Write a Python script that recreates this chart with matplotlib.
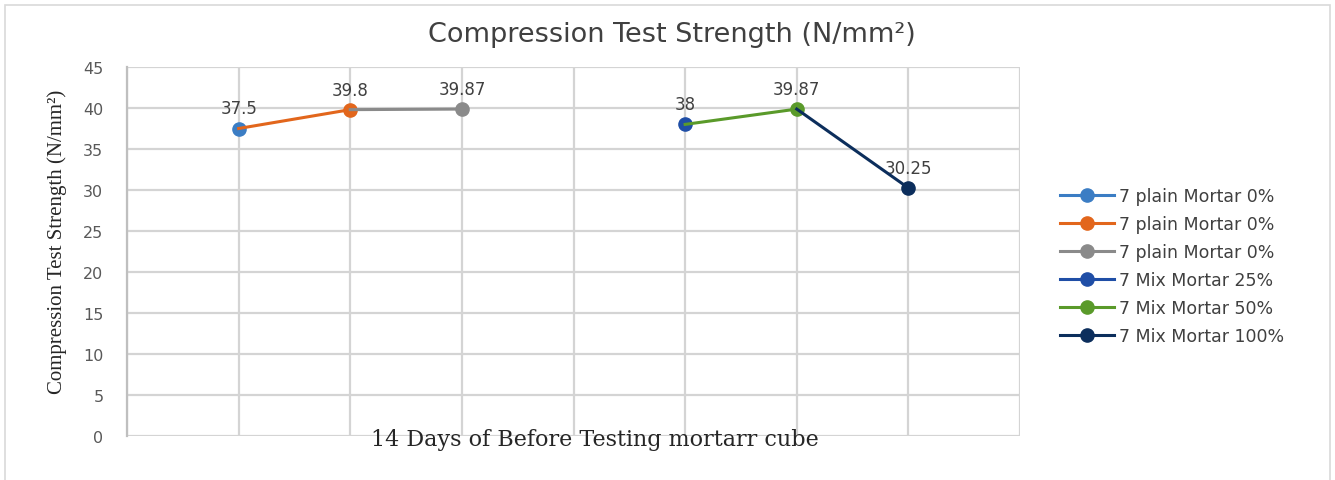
import matplotlib.pyplot as plt
from matplotlib.patches import Rectangle

# datos del grafico
series = ['7 plain Mortar 0%', '7 plain Mortar 0%', '7 plain Mortar 0%',
          '7 Mix Mortar 25%', '7 Mix Mortar 50%', '7 Mix Mortar 100%']
posiciones = [1, 2, 3, 5, 6, 7]
valores = [37.5, 39.8, 39.87, 38, 39.87, 30.25]
etiquetas = ['37.5', '39.8', '39.87', '38', '39.87', '30.25']
# indice del punto anterior al que se une cada serie (None = sin linea)
anterior = [None, 0, 1, None, 3, 4]
colores = ['#3b7dc4', '#e2661c', '#8a8a8a', '#1f4ea6', '#5a9a2a', '#0c2e5c']

fig = plt.figure(figsize=(13.35, 4.81), dpi=100)
ax = fig.add_axes([127 / 1335, 1 - 437 / 481, (1020 - 127) / 1335, (437 - 68) / 481])

# borde exterior del grafico
fig.patches.append(Rectangle((5 / 1335, -0.01), 1325 / 1335, 1 - 6 / 481 + 0.01,
                             transform=fig.transFigure, fill=False,
                             edgecolor='#d9d9d9', linewidth=1.2))

for i in range(len(series)):
    if anterior[i] is None:
        xs = [posiciones[i]]
        ys = [valores[i]]
    else:
        xs = [posiciones[anterior[i]], posiciones[i]]
        ys = [valores[anterior[i]], valores[i]]
    ax.plot(xs, ys, color=colores[i], linewidth=2.2, marker='o', markersize=9.5,
            markevery=[len(xs) - 1], label=series[i], zorder=3 + i)
    ax.annotate(etiquetas[i], (posiciones[i], valores[i]), xytext=(0, 8),
                textcoords='offset points', ha='center', va='bottom',
                fontsize=12, color='#404040', family='DejaVu Sans')

ax.set_xlim(0, 8)
ax.set_ylim(0, 45)
ax.set_xticks(range(0, 9))
ax.set_yticks(range(0, 50, 5))
ax.set_xticklabels([])
ax.grid(True, color='#d4d4d4', linewidth=1.6)
ax.set_axisbelow(True)
for lado in ['top', 'right', 'bottom']:
    ax.spines[lado].set_visible(False)
ax.spines['left'].set_color('#bfbfbf')
ax.spines['left'].set_linewidth(1.6)
ax.tick_params(length=0, pad=17, labelsize=11.5, labelcolor='#595959')
for t in ax.get_yticklabels():
    t.set_family('DejaVu Sans')

ax.set_ylabel('Compression Test Strength (N/mm²)', family='Liberation Serif',
              fontsize=15, color='#262626')
ax.yaxis.set_label_coords(-0.067, 0.528)

fig.text(595 / 1335, 1 - 440 / 481, '14 Days of Before Testing mortarr cube',
         family='DejaVu Serif', fontsize=16, color='#262626',
         ha='center', va='center')

fig.text(672 / 1335, 1 - 35 / 481, 'Compression Test Strength (N/mm²)',
         family='DejaVu Sans', fontsize=19.5, color='#404040',
         ha='center', va='center')

ax.legend(loc='center left', bbox_to_anchor=(1.045, 0.46), frameon=False,
          borderaxespad=0, borderpad=0,
          prop={'family': 'DejaVu Sans', 'size': 12.5}, handlelength=3.1,
          labelspacing=0.58, handletextpad=0.3, labelcolor='#404040')

plt.savefig('out.png')
